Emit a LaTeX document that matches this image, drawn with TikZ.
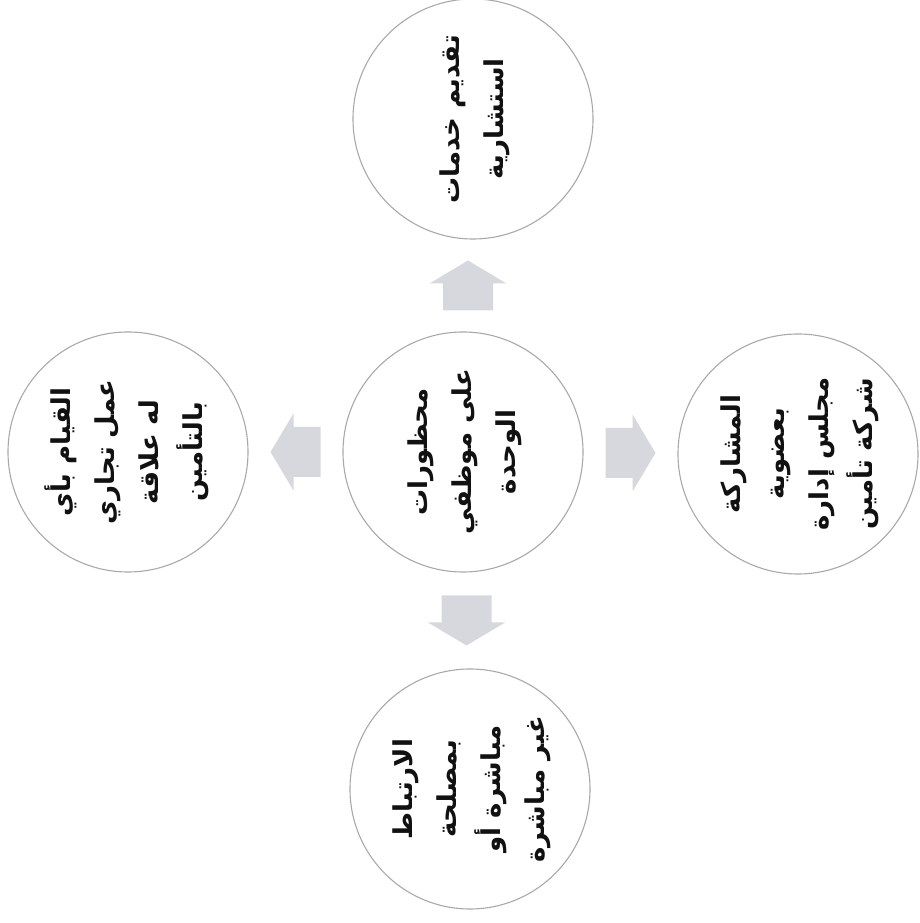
\documentclass[tikz,border=0pt]{standalone}
\usepackage{fontspec}
\usepackage{graphicx}
\usetikzlibrary{calc}
\TeXXeTstate=1
\newfontfamily\arabicfont[Script=Arabic]{DejaVu Sans}
\definecolor{cRing}{HTML}{A9A9A9}
\definecolor{cArrow}{HTML}{D7D7DE}
\definecolor{cInk}{HTML}{111111}

% one right-to-left line, and a stack of them turned on its side
\newcommand{\arline}[1]{\beginR #1\endR}
\newcommand{\vlines}[1]{\rotatebox{90}{\begin{tabular}{@{}c@{}}#1\end{tabular}}}

\begin{document}
\begin{tikzpicture}[
  x=1pt, y=1pt,
  font=\arabicfont\bfseries\fontsize{26}{44}\selectfont,
  ring/.style={circle, draw=cRing, line width=1.1pt, fill=white,
    minimum size=240pt, inner sep=0pt, text=cInk},
  blockfill/.style={fill=cArrow},
]
\useasboundingbox (0,0) rectangle (920,923);

% ---- Block arrow (centred between two anchors, turned by #3) ----
\newcommand{\blockarr}[3]{%
  \begin{scope}[shift={($(#1)!0.5!(#2)$)}, rotate=#3]
    \fill[blockfill] (-25,-25) -- (2,-25) -- (2,-38.5) -- (25,0)
      -- (2,38.5) -- (2,25) -- (-25,25) -- cycle;
  \end{scope}}

% ---- Circles ----
\node[ring] (cen) at (463,471)
  {\vlines{\arline{محظورات}\\ \arline{على موظفي}\\ \arline{الوحدة}}};
\node[ring] (top) at (473,804)
  {\vlines{\arline{تقديم خدمات}\\ \arline{استشارية}}};
\node[ring] (rgt) at (798,469)
  {\vlines{\arline{المشاركة}\\ \arline{بعضوية}\\ \arline{مجلس إدارة}\\ \arline{شركة تأمين}}};
\node[ring] (bot) at (470,134)
  {\vlines{\arline{الارتباط}\\ \arline{بمصلحة}\\ \arline{مباشرة أو}\\ \arline{غير مباشرة}}};
\node[ring] (lft) at (128,471)
  {\vlines{\arline{القيام بأي}\\ \arline{عمل تجاري}\\ \arline{له علاقة}\\ \arline{بالتأمين}}};

% ---- Arrows out of the centre ----
\blockarr{cen.north}{top.south}{90}
\blockarr{cen.east}{rgt.west}{0}
\blockarr{cen.south}{bot.north}{-90}
\blockarr{cen.west}{lft.east}{180}

\end{tikzpicture}
\end{document}
